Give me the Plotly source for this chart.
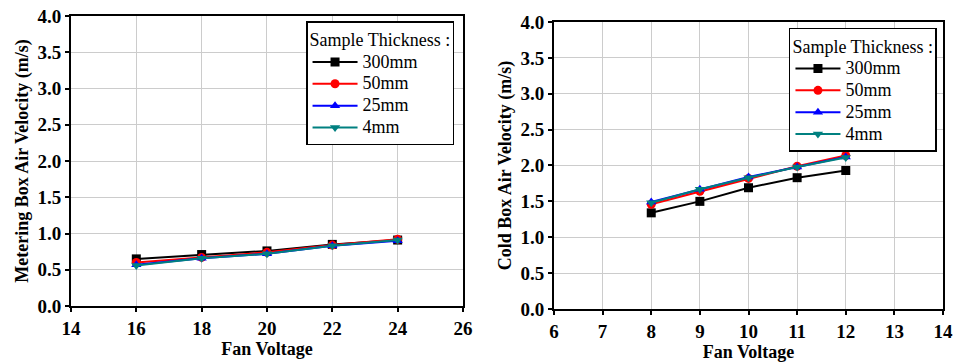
import plotly.graph_objects as go

# Fan voltage settings for each box
metering_voltage = [16, 18, 20, 22, 24]
cold_voltage = [8, 9, 10, 11, 12]

# Metering box air velocity (m/s) per sample thickness
metering_300mm = [0.65, 0.71, 0.76, 0.85, 0.91]
metering_50mm = [0.60, 0.67, 0.74, 0.84, 0.92]
metering_25mm = [0.57, 0.66, 0.72, 0.83, 0.90]
metering_4mm = [0.56, 0.66, 0.72, 0.83, 0.91]

# Cold box air velocity (m/s) per sample thickness
cold_300mm = [1.34, 1.50, 1.69, 1.83, 1.93]
cold_50mm = [1.46, 1.64, 1.82, 1.99, 2.14]
cold_25mm = [1.49, 1.67, 1.84, 1.98, 2.12]
cold_4mm = [1.48, 1.67, 1.83, 1.98, 2.11]

series_names = ["300mm", "50mm", "25mm", "4mm"]
series_colors = ["#000000", "#ff0000", "#0000ff", "#008080"]
series_symbols = ["square", "circle", "triangle-up", "triangle-down"]

SERIF = "Liberation Serif"

# legend rows are spaced from the small base size; the labels are drawn larger
LEGEND_ROW_SIZE = 14.5
LEGEND_TEXT_SIZE = 18


def legend_label(text):
    return (f"<span style='font-family:{SERIF};font-size:{LEGEND_TEXT_SIZE}px'>"
            f"{text}</span>")


fig = go.Figure()

panels = [
    ("x", "y", "legend", metering_voltage,
     [metering_300mm, metering_50mm, metering_25mm, metering_4mm]),
    ("x2", "y2", "legend2", cold_voltage,
     [cold_300mm, cold_50mm, cold_25mm, cold_4mm]),
]
for xa, ya, leg, volts, groups in panels:
    for name, color, sym, vals in zip(series_names, series_colors, series_symbols, groups):
        fig.add_trace(go.Scatter(
            x=volts, y=vals, name=legend_label(name), mode="lines+markers",
            line=dict(color=color, width=2),
            marker=dict(symbol=sym, size=9, color=color),
            xaxis=xa, yaxis=ya, legend=leg,
        ))

axis_common = dict(
    showline=True, linecolor="black", linewidth=2, mirror=True,
    ticks="outside", ticklen=4, tickwidth=1.5, tickcolor="black",
    showgrid=True, gridcolor="#cccccc", gridwidth=1, zeroline=False,
    automargin=False,
    tickfont=dict(family=SERIF, size=19, color="black", weight="bold"),
)
title_font = dict(family=SERIF, size=18, color="black", weight="bold")
legend_font = dict(family=SERIF, size=LEGEND_ROW_SIZE, color="black")
legend_title_font = dict(family=SERIF, size=LEGEND_TEXT_SIZE, color="black")

fig.update_layout(
    width=954, height=364,
    margin=dict(l=0, r=0, t=0, b=0),
    paper_bgcolor="white", plot_bgcolor="white",
    font=dict(family=SERIF, color="black"),
    xaxis=dict(domain=[0.0744, 0.4853], range=[14, 26], dtick=2,
               title=dict(text="Fan Voltage", font=title_font, standoff=4),
               anchor="y", **axis_common),
    yaxis=dict(domain=[0.1593, 0.956], range=[0, 4], dtick=0.5, tickformat=".1f",
               title=dict(text="Metering Box Air Velocity (m/s)", font=title_font, standoff=4),
               anchor="x", **axis_common),
    xaxis2=dict(domain=[0.5807, 0.9885], range=[6, 14], dtick=1,
                title=dict(text="Fan Voltage", font=title_font, standoff=4),
                anchor="y2", **axis_common),
    yaxis2=dict(domain=[0.1511, 0.9396], range=[0, 4], dtick=0.5, tickformat=".1f",
                title=dict(text="Cold Box Air Velocity (m/s)", font=title_font, standoff=4),
                anchor="x2", **axis_common),
    legend=dict(
        x=0.3208, y=0.942, xanchor="left", yanchor="top",
        bgcolor="white", bordercolor="black", borderwidth=1.5,
        title=dict(text="Sample Thickness :", font=legend_title_font),
        font=legend_font, tracegroupgap=0, itemwidth=45,
    ),
    legend2=dict(
        x=0.827, y=0.924, xanchor="left", yanchor="top",
        bgcolor="white", bordercolor="black", borderwidth=1.5,
        title=dict(text="Sample Thickness :", font=legend_title_font),
        font=legend_font, tracegroupgap=0, itemwidth=45,
    ),
)

fig.write_html("out.html")
